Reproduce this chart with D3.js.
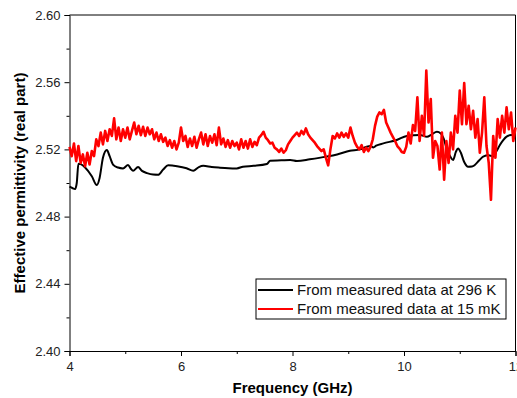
<!DOCTYPE html>
<html>
<head>
<meta charset="utf-8">
<script src="https://cdn.jsdelivr.net/npm/d3@7"></script>
<style>
  body { margin: 0; background: #fff; }
  svg { display: block; font-family: "Liberation Sans", Arial, sans-serif; }
</style>
</head>
<body>
<div id="chart"></div>
<script>
// axis ticks
const xMajorTicks = [4, 6, 8, 10, 12];
const xMinorTicks = [5, 7, 9, 11];
const yMajorTicks = [2.40, 2.44, 2.48, 2.52, 2.56, 2.60];
const yMinorTicks = [2.42, 2.46, 2.50, 2.54, 2.58];

const seriesNames = ["From measured data at 296 K", "From measured data at 15 mK"];

// 296 K curve, [frequency GHz, permittivity]
const data296K = [
  [4.00, 2.4978], [4.05, 2.4970], [4.10, 2.4964], [4.13, 2.5000], [4.16, 2.5115],
  [4.20, 2.5112], [4.28, 2.5092], [4.40, 2.5040], [4.49, 2.4988], [4.54, 2.5030],
  [4.60, 2.5150], [4.67, 2.5196], [4.72, 2.5160], [4.78, 2.5110], [4.87, 2.5092],
  [4.96, 2.5087], [5.05, 2.5107], [5.10, 2.5085], [5.14, 2.5073], [5.23, 2.5095],
  [5.30, 2.5072], [5.39, 2.5059], [5.50, 2.5050], [5.59, 2.5049], [5.68, 2.5080],
  [5.77, 2.5105], [5.93, 2.5100], [6.10, 2.5088], [6.22, 2.5073], [6.32, 2.5095],
  [6.40, 2.5102], [6.55, 2.5095], [6.70, 2.5091], [6.85, 2.5088], [7.00, 2.5087],
  [7.11, 2.5097], [7.30, 2.5102], [7.54, 2.5113], [7.60, 2.5133], [7.80, 2.5135],
  [7.96, 2.5137], [8.08, 2.5131], [8.31, 2.5141], [8.61, 2.5157], [8.80, 2.5170],
  [9.03, 2.5192], [9.21, 2.5200], [9.33, 2.5216], [9.40, 2.5220], [9.45, 2.5212],
  [9.50, 2.5222], [9.63, 2.5236], [9.87, 2.5256], [10.05, 2.5280], [10.29, 2.5286],
  [10.41, 2.5275], [10.50, 2.5290], [10.59, 2.5305], [10.66, 2.5295], [10.71, 2.5266],
  [10.77, 2.5200], [10.83, 2.5157], [10.88, 2.5137], [10.93, 2.5185], [10.97, 2.5206],
  [11.02, 2.5180], [11.08, 2.5125], [11.15, 2.5097], [11.22, 2.5098], [11.27, 2.5107],
  [11.35, 2.5135], [11.42, 2.5157], [11.52, 2.5165], [11.60, 2.5157], [11.66, 2.5190],
  [11.72, 2.5226], [11.78, 2.5255], [11.84, 2.5276], [11.92, 2.5285], [12.00, 2.5286]
];

// 15 mK curve, [frequency GHz, permittivity]
const data15mK = [
  [4.00, 2.5215], [4.04, 2.5160], [4.08, 2.5235], [4.12, 2.5130], [4.16, 2.5220],
  [4.20, 2.5120], [4.24, 2.5170], [4.28, 2.5100], [4.32, 2.5180], [4.36, 2.5110],
  [4.40, 2.5190], [4.44, 2.5160], [4.48, 2.5260], [4.52, 2.5220], [4.56, 2.5300],
  [4.60, 2.5230], [4.64, 2.5310], [4.68, 2.5250], [4.72, 2.5320], [4.76, 2.5280],
  [4.80, 2.5385], [4.84, 2.5260], [4.88, 2.5330], [4.92, 2.5250], [4.96, 2.5320],
  [5.00, 2.5270], [5.04, 2.5330], [5.08, 2.5260], [5.12, 2.5310], [5.16, 2.5360],
  [5.20, 2.5290], [5.24, 2.5340], [5.28, 2.5285], [5.32, 2.5335], [5.36, 2.5280],
  [5.40, 2.5330], [5.44, 2.5290], [5.48, 2.5320], [5.52, 2.5260], [5.56, 2.5300],
  [5.60, 2.5250], [5.64, 2.5290], [5.68, 2.5245], [5.72, 2.5270], [5.76, 2.5220],
  [5.80, 2.5255], [5.84, 2.5210], [5.88, 2.5250], [5.92, 2.5200], [5.96, 2.5240],
  [6.00, 2.5330], [6.04, 2.5250], [6.08, 2.5280], [6.12, 2.5215], [6.16, 2.5265],
  [6.20, 2.5220], [6.24, 2.5275], [6.28, 2.5210], [6.32, 2.5260], [6.36, 2.5300],
  [6.40, 2.5230], [6.44, 2.5290], [6.48, 2.5220], [6.52, 2.5280], [6.56, 2.5240],
  [6.60, 2.5290], [6.64, 2.5225], [6.68, 2.5330], [6.72, 2.5230], [6.76, 2.5265],
  [6.80, 2.5215], [6.84, 2.5255], [6.88, 2.5210], [6.92, 2.5250], [6.96, 2.5220],
  [7.00, 2.5240], [7.04, 2.5200], [7.08, 2.5260], [7.12, 2.5210], [7.16, 2.5250],
  [7.20, 2.5205], [7.24, 2.5260], [7.28, 2.5215], [7.32, 2.5245], [7.36, 2.5225],
  [7.40, 2.5270], [7.44, 2.5285], [7.48, 2.5305], [7.52, 2.5270], [7.56, 2.5255],
  [7.60, 2.5235], [7.64, 2.5240], [7.68, 2.5210], [7.72, 2.5200], [7.76, 2.5185],
  [7.80, 2.5205], [7.84, 2.5180], [7.88, 2.5195], [7.92, 2.5230], [7.96, 2.5250],
  [8.00, 2.5270], [8.04, 2.5285], [8.08, 2.5300], [8.12, 2.5280], [8.16, 2.5310],
  [8.20, 2.5290], [8.24, 2.5325], [8.28, 2.5290], [8.32, 2.5270], [8.36, 2.5255],
  [8.40, 2.5240], [8.44, 2.5220], [8.48, 2.5205], [8.52, 2.5190], [8.56, 2.5200],
  [8.60, 2.5150], [8.64, 2.5105], [8.68, 2.5200], [8.72, 2.5280], [8.76, 2.5265],
  [8.80, 2.5295], [8.84, 2.5270], [8.88, 2.5300], [8.92, 2.5275], [8.96, 2.5295],
  [9.00, 2.5270], [9.04, 2.5330], [9.08, 2.5280], [9.12, 2.5240], [9.16, 2.5215],
  [9.20, 2.5200], [9.24, 2.5225], [9.28, 2.5185], [9.32, 2.5210], [9.36, 2.5190],
  [9.40, 2.5215], [9.44, 2.5260], [9.48, 2.5340], [9.52, 2.5395], [9.56, 2.5420],
  [9.60, 2.5410], [9.64, 2.5435], [9.68, 2.5360], [9.72, 2.5330], [9.76, 2.5300],
  [9.80, 2.5275], [9.84, 2.5250], [9.88, 2.5220], [9.92, 2.5205], [9.96, 2.5185],
  [10.00, 2.5180], [10.04, 2.5215], [10.08, 2.5300], [10.12, 2.5235], [10.16, 2.5345],
  [10.20, 2.5310], [10.24, 2.5510], [10.28, 2.5250], [10.32, 2.5400], [10.36, 2.5280],
  [10.40, 2.5670], [10.44, 2.5360], [10.48, 2.5500], [10.52, 2.5150], [10.56, 2.5250],
  [10.60, 2.5220], [10.64, 2.5080], [10.68, 2.5300], [10.72, 2.5020], [10.76, 2.5250],
  [10.80, 2.5120], [10.84, 2.5300], [10.88, 2.5200], [10.92, 2.5400], [10.96, 2.5300],
  [11.00, 2.5550], [11.04, 2.5350], [11.08, 2.5595], [11.12, 2.5350], [11.16, 2.5460],
  [11.20, 2.5320], [11.24, 2.5430], [11.28, 2.5270], [11.32, 2.5380], [11.36, 2.5180],
  [11.40, 2.5300], [11.44, 2.5510], [11.48, 2.5220], [11.52, 2.5120], [11.56, 2.4900],
  [11.60, 2.5280], [11.64, 2.5150], [11.68, 2.5380], [11.72, 2.5270], [11.76, 2.5400],
  [11.80, 2.5300], [11.84, 2.5450], [11.88, 2.5320], [11.92, 2.5420], [11.96, 2.5250],
  [12.00, 2.5330]
];

const width = 517, height = 398;
const margin = { top: 15, right: 1.5, bottom: 47, left: 69.5 };

const svg = d3.select("#chart")
  .append("svg")
  .attr("width", width)
  .attr("height", height);

const x = d3.scaleLinear().domain([4, 12]).range([margin.left, width - margin.right]);
const y = d3.scaleLinear().domain([2.40, 2.60]).range([height - margin.bottom, margin.top]);

// frame (top + right)
svg.append("path")
  .attr("d", `M${x(4)},${y(2.60)}H${x(12)}V${y(2.40)}`)
  .attr("fill", "none")
  .attr("stroke", "#000")
  .attr("stroke-width", 1);

// x axis
const xAxis = svg.append("g").attr("transform", `translate(0,${y(2.40)})`);
xAxis.call(d3.axisBottom(x).tickValues(xMajorTicks).tickFormat(d3.format("d")).tickSize(5).tickPadding(6));
svg.append("g").attr("transform", `translate(0,${y(2.40)})`)
  .call(d3.axisBottom(x).tickValues(xMinorTicks).tickFormat("").tickSize(3))
  .select(".domain").remove();

// y axis
const yAxis = svg.append("g").attr("transform", `translate(${x(4)},0)`);
yAxis.call(d3.axisLeft(y).tickValues(yMajorTicks).tickFormat(d3.format(".2f")).tickSize(5).tickPadding(4));
svg.append("g").attr("transform", `translate(${x(4)},0)`)
  .call(d3.axisLeft(y).tickValues(yMinorTicks).tickFormat("").tickSize(3))
  .select(".domain").remove();

svg.selectAll(".tick text")
  .attr("font-size", "13px")
  .attr("font-family", "Liberation Sans, Arial, sans-serif")
  .attr("fill", "#222");
svg.selectAll(".domain, .tick line").attr("stroke", "#000");

// axis titles
svg.append("text")
  .attr("x", (x(4) + x(12)) / 2)
  .attr("y", 393)
  .attr("text-anchor", "middle")
  .attr("font-size", "15px")
  .attr("font-weight", "bold")
  .text("Frequency (GHz)");

svg.append("text")
  .attr("transform", `translate(25,${(y(2.40) + y(2.60)) / 2}) rotate(-90)`)
  .attr("text-anchor", "middle")
  .attr("font-size", "15px")
  .attr("font-weight", "bold")
  .text("Effective permittivity (real part)");

// curves
const line = d3.line()
  .x(d => x(d[0]))
  .y(d => y(d[1]));

const plot = svg.append("g");
plot.append("path")
  .datum(data296K)
  .attr("d", line.curve(d3.curveMonotoneX))
  .attr("fill", "none")
  .attr("stroke", "#000")
  .attr("stroke-width", 2);

// noisy 15 mK trace drawn heavier so it reads as a band
plot.append("path")
  .datum(data15mK)
  .attr("d", line.curve(d3.curveLinear))
  .attr("fill", "none")
  .attr("stroke", "#ff0000")
  .attr("stroke-width", 2.6)
  .attr("stroke-linejoin", "round");

// legend
const legend = svg.append("g").attr("transform", "translate(256,279)");
legend.append("rect")
  .attr("width", 250)
  .attr("height", 40)
  .attr("fill", "#fff")
  .attr("stroke", "#000")
  .attr("stroke-width", 1);

const legendColors = ["#000", "#ff0000"];
seriesNames.forEach((name, i) => {
  const row = legend.append("g").attr("transform", `translate(0,${11 + i * 19})`);
  row.append("line")
    .attr("x1", 2).attr("x2", 37)
    .attr("stroke", legendColors[i])
    .attr("stroke-width", 2);
  row.append("text")
    .attr("x", 41)
    .attr("dy", "0.35em")
    .attr("font-size", "15px")
    .attr("fill", "#111")
    .text(name);
});
</script>
</body>
</html>
